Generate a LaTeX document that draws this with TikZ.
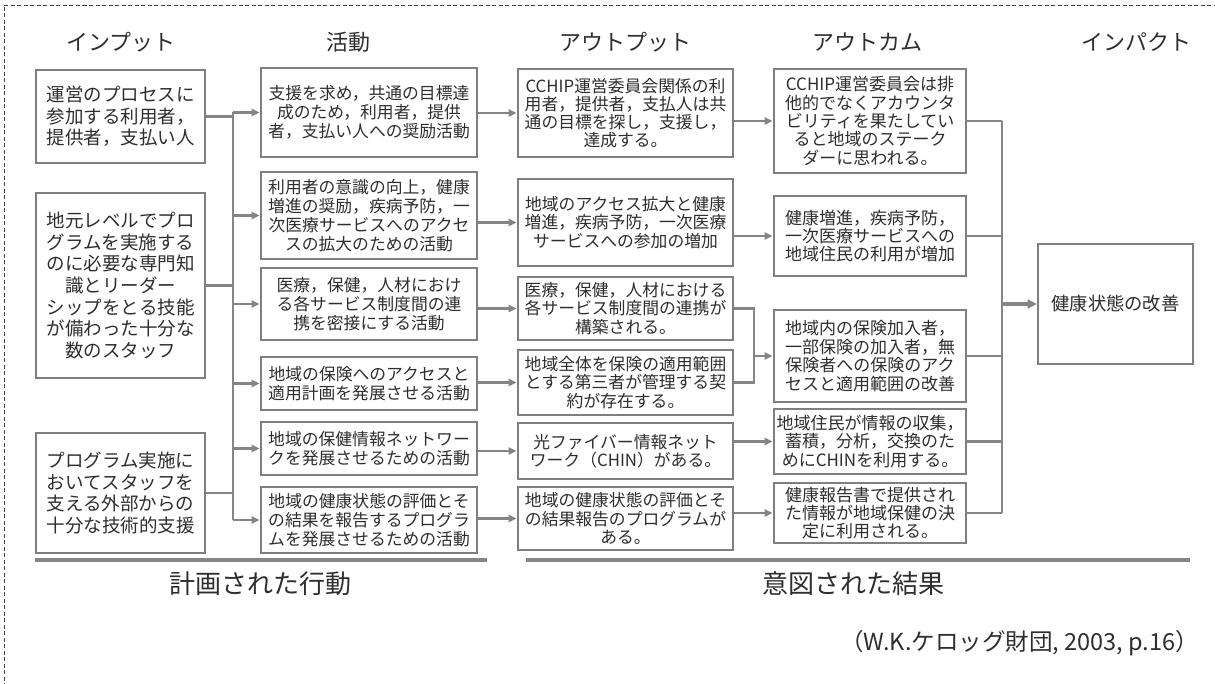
\documentclass[tikz,border=0pt]{standalone}
\usepackage{fontspec}
\setmainfont{Noto Sans CJK JP}
\usetikzlibrary{arrows.meta,calc}
\definecolor{boxgray}{HTML}{7F7F7F}
\definecolor{linegray}{HTML}{858585}
\definecolor{txt}{HTML}{2E2E2E}
\begin{document}
\begin{tikzpicture}[x=1pt,y=-1pt,
  box/.style={draw=boxgray, line width=2.6pt, fill=white, text=txt, align=center, inner sep=1pt},
  inbox/.style={box, font=\fontsize{18.5pt}{21.6pt}\selectfont},
  actbox/.style={box, font=\fontsize{16.8pt}{18.8pt}\selectfont},
  outbox/.style={box, font=\fontsize{16.8pt}{18.2pt}\selectfont},
  ocbox/.style={box, font=\fontsize{17pt}{18.4pt}\selectfont},
  impbox/.style={box, font=\fontsize{18.3pt}{20pt}\selectfont},
  head/.style={text=txt, font=\fontsize{22pt}{24pt}\selectfont, inner sep=0pt},
  foot/.style={text=txt, font=\fontsize{26pt}{28pt}\selectfont, inner sep=0pt},
  conn/.style={draw=linegray, line width=2.2pt},
  arr/.style={conn, -{Triangle[length=8pt,width=7pt]}},
  rule/.style={draw=linegray, line width=4pt},
  frame/.style={draw=black!75, line width=0.8pt, dash pattern=on 4pt off 2.5pt},
]
\useasboundingbox (0,0) rectangle (1215,684);
% frame
\coordinate (fa) at (4,700);
\coordinate (fb) at (4,5);
\coordinate (fc) at (1216,5);
\draw[frame] (fa) -- (fb) -- (fc);

% headings
\node[head] (h1) at (121,42) {インプット};
\node[head] (h2) at (348,42) {活動};
\node[head] (h3) at (625,42) {アウトプット};
\node[head] (h4) at (867,42) {アウトカム};
\node[head] (h5) at (1136,42) {インパクト};

% inputs
\node[inbox, minimum width=169pt, minimum height=93pt] (I1) at (120.5,116.5)
  {運営のプロセスに\\参加する利用者，\\提供者，支払い人};
\node[inbox, minimum width=169pt, minimum height=185pt] (I2) at (120.5,285.5)
  {地元レベルでプロ\\グラムを実施する\\のに必要な専門知\\識とリーダー\\シップをとる技能\\が備わった十分な\\数のスタッフ};
\node[inbox, minimum width=169pt, minimum height=120pt] (I3) at (120.5,493)
  {プログラム実施に\\おいてスタッフを\\支える外部からの\\十分な技術的支援};

% activities
\node[actbox, minimum width=216pt, minimum height=89pt] (A1) at (369,112.5)
  {支援を求め，共通の目標達\\成のため，利用者，提供\\者，支払い人への奨励活動};
\node[actbox, minimum width=216pt, minimum height=87pt] (A2) at (369,215.5)
  {利用者の意識の向上，健康\\増進の奨励，疾病予防，一\\次医療サービスへのアクセ\\スの拡大のための活動};
\node[actbox, minimum width=216pt, minimum height=72pt] (A3) at (369,304)
  {医療，保健，人材におけ\\る各サービス制度間の連\\携を密接にする活動};
\node[actbox, minimum width=216pt, minimum height=53pt] (A4) at (369,383.5)
  {地域の保険へのアクセスと\\適用計画を発展させる活動};
\node[actbox, minimum width=216pt, minimum height=53pt] (A5) at (369,448.5)
  {地域の保健情報ネットワー\\クを発展させるための活動};
\node[actbox, minimum width=216pt, minimum height=66pt] (A6) at (369,520)
  {地域の健康状態の評価とそ\\の結果を報告するプログラ\\ムを発展させるための活動};

% outputs
\node[outbox, minimum width=215pt, minimum height=88pt] (O1) at (625.5,113)
  {CCHIP運営委員会関係の利\\用者，提供者，支払人は共\\通の目標を探し，支援し，\\達成する。};
\node[outbox, minimum width=215pt, minimum height=87pt] (O2) at (625.5,222.5)
  {地域のアクセス拡大と健康\\増進，疾病予防，一次医療\\サービスへの参加の増加};
\node[outbox, minimum width=215pt, minimum height=63pt] (O3) at (625.5,308.5)
  {医療，保健，人材における\\各サービス制度間の連携が\\構築される。};
\node[outbox, minimum width=215pt, minimum height=65pt] (O4) at (625.5,382.5)
  {地域全体を保険の適用範囲\\とする第三者が管理する契\\約が存在する。};
\node[outbox, minimum width=215pt, minimum height=56pt] (O5) at (625.5,451)
  {光ファイバー情報ネット\\ワーク（CHIN）がある。};
\node[outbox, minimum width=215pt, minimum height=63pt] (O6) at (625.5,518.5)
  {地域の健康状態の評価とそ\\の結果報告のプログラムが\\ある。};

% outcomes
\node[ocbox, minimum width=192pt, minimum height=104pt] (C1) at (870,121)
  {CCHIP運営委員会は排\\他的でなくアカウンタ\\ビリティを果たしてい\\ると地域のステーク\\ダーに思われる。};
\node[ocbox, minimum width=192pt, minimum height=80pt] (C2) at (870,236)
  {健康増進，疾病予防，\\一次医療サービスへの\\地域住民の利用が増加};
\node[ocbox, minimum width=192pt, minimum height=92pt] (C3) at (870,356)
  {地域内の保険加入者，\\一部保険の加入者，無\\保険者への保険のアク\\セスと適用範囲の改善};
\node[ocbox, minimum width=192pt, minimum height=65pt] (C4) at (870,441.5)
  {地域住民が情報の収集，\\蓄積，分析，交換のた\\めにCHINを利用する。};
\node[ocbox, minimum width=192pt, minimum height=60pt] (C5) at (870,513)
  {健康報告書で提供され\\た情報が地域保健の決\\定に利用される。};

% impact
\node[impbox, minimum width=155pt, minimum height=120pt] (Imp) at (1115.5,304) {健康状態の改善};

% bus 1
\coordinate (b1) at (233,0);
\draw[conn] (A1.west -| b1) -- (A6.west -| b1);
\draw[conn] (I1.east) -- (I1.east -| b1);
\draw[conn] (I2.east) -- (I2.east -| b1);
\draw[conn] (I3.east) -- (I3.east -| b1);
\foreach \n in {A1,A2,A3,A4,A5,A6}{
  \draw[arr] (\n.west -| b1) -- (\n.west);
}
% activities -> outputs
\draw[arr] (O1.west -| A1.east) -- (O1.west);
\draw[arr] (O2.west -| A2.east) -- (O2.west);
\draw[arr] (O3.west -| A3.east) -- (O3.west);
\draw[arr] (O4.west -| A4.east) -- (O4.west);
\draw[arr] (O5.west -| A5.east) -- (O5.west);
\draw[arr] (O6.west -| A6.east) -- (O6.west);
% outputs -> outcomes
\coordinate (m) at (754,0);
\draw[arr] (C1.west -| O1.east) -- (C1.west);
\draw[arr] (C2.west -| O2.east) -- (C2.west);
\draw[conn] (O3.east) -- (O3.east -| m) -- (O4.east -| m) -- (O4.east);
\draw[arr] (C3.west -| m) -- (C3.west);
\draw[arr] (C4.west -| O5.east) -- (C4.west);
\draw[arr] (C5.west -| O6.east) -- (C5.west);
% bus 2
\coordinate (b2) at (1002,0);
\draw[conn] (C1.east -| b2) -- (C5.east -| b2);
\foreach \n in {C1,C2,C3,C4,C5}{
  \draw[conn] (\n.east) -- (\n.east -| b2);
}
\draw[conn, line width=3.2pt, -{Triangle[length=9pt,width=9pt]}] (Imp.west -| b2) -- (Imp.west);

% bottom rules
\coordinate (r1a) at (35,560);
\coordinate (r1b) at (487,560);
\coordinate (r2a) at (526,560);
\coordinate (r2b) at (1190,560);
\draw[rule] (r1a) -- (r1b);
\draw[rule] (r2a) -- (r2b);
\node[foot] (f1) at (260,584) {計画された行動};
\node[foot] (f2) at (853,584) {意図された結果};
\node[text=txt, font=\fontsize{23.5pt}{25pt}\selectfont, inner sep=0pt, anchor=east] (cite) at (1199,643)
  {（W.K.ケロッグ財団, 2003, p.16）};
\end{tikzpicture}
\end{document}
